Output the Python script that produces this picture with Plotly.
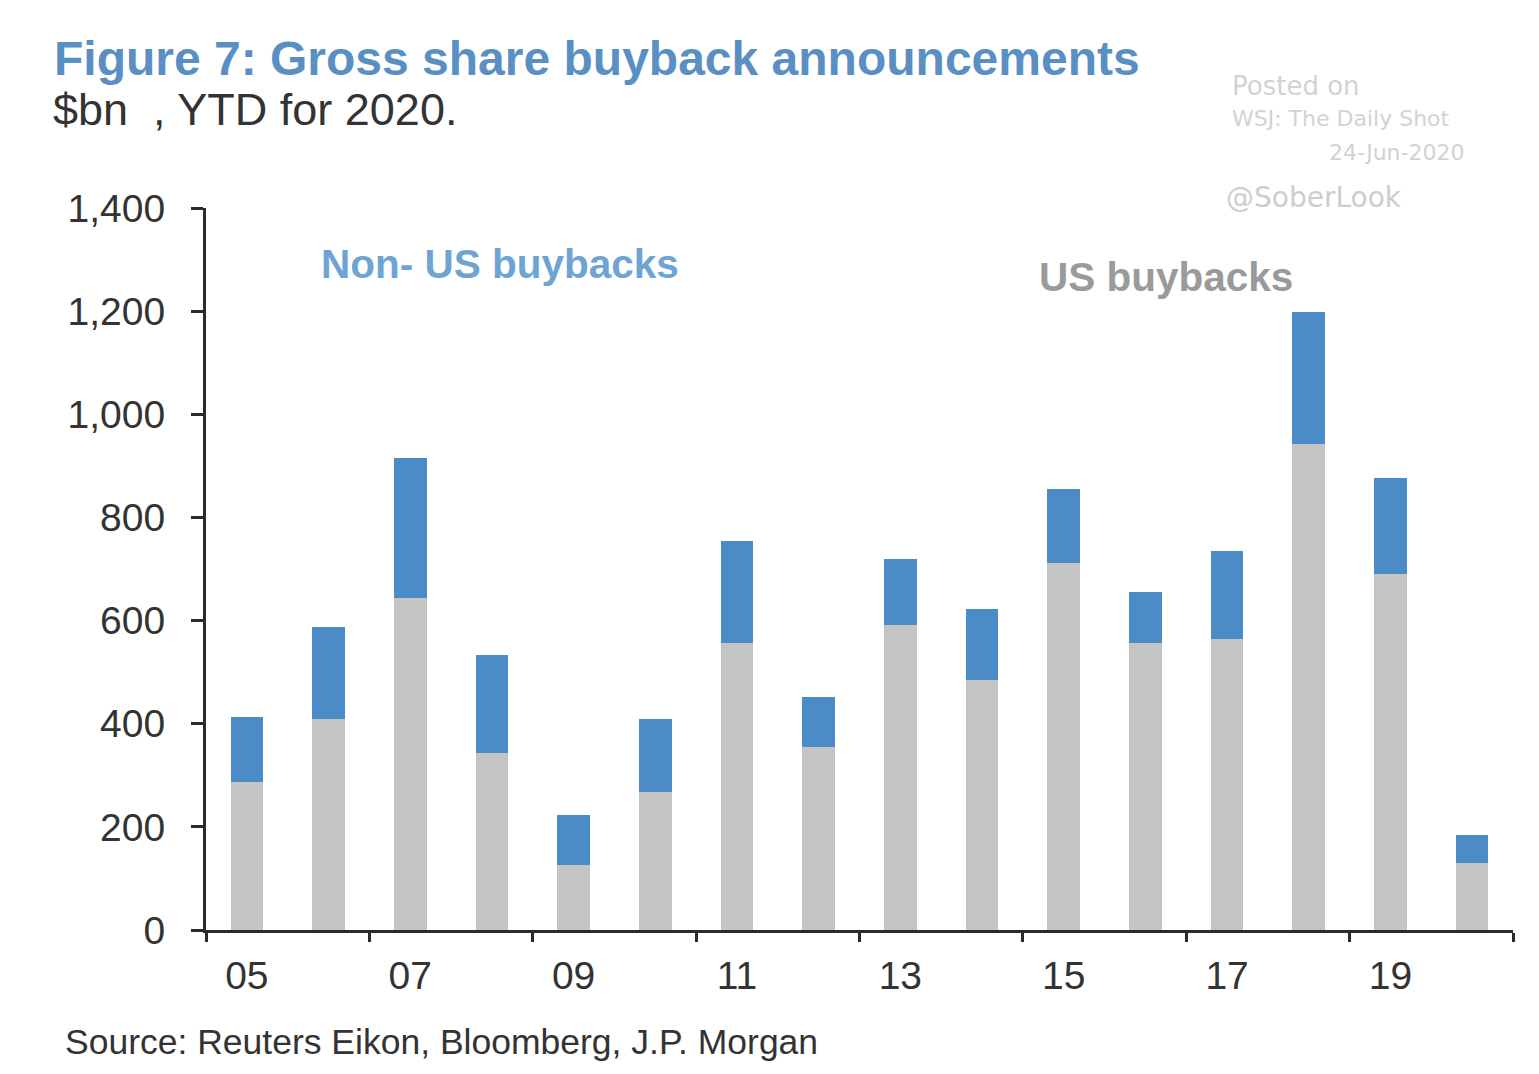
import plotly.graph_objects as go

# ---- data ----
years = [2005, 2006, 2007, 2008, 2009, 2010, 2011, 2012, 2013, 2014, 2015, 2016, 2017, 2018, 2019, 2020]
us_buybacks = [287, 410, 643, 343, 126, 267, 556, 354, 592, 484, 711, 556, 564, 943, 690, 130]
non_us_buybacks = [126, 177, 273, 191, 97, 142, 198, 97, 128, 139, 145, 100, 171, 256, 187, 54]
tick_years = [2005, 2007, 2009, 2011, 2013, 2015, 2017, 2019]
tick_labels = ["05", "07", "09", "11", "13", "15", "17", "19"]
y_ticks = [0, 200, 400, 600, 800, 1000, 1200, 1400]
boundary_ticks = [2004.5, 2006.5, 2008.5, 2010.5, 2012.5, 2014.5, 2016.5, 2018.5, 2020.5]

W, H = 1539, 1074
OFF = 8  # page body margin
L, R, T, B = 206, 1513, 208, 930
FW, FH = W - 2 * OFF, H - 2 * OFF
FONT = "Liberation Sans, Arial, sans-serif"
WM_FONT = "DejaVu Sans, sans-serif"

def px(x):
    return (x - L) / (R - L)

def py(y):
    return (B - y) / (B - T)

fig = go.Figure()
fig.add_trace(go.Bar(x=years, y=us_buybacks, name="US buybacks",
                     marker=dict(color="#c4c4c4", line=dict(width=0)), width=0.4))
fig.add_trace(go.Bar(x=years, y=non_us_buybacks, name="Non- US buybacks",
                     marker=dict(color="#4b8cc8", line=dict(width=0)), width=0.4))

fig.update_layout(
    width=FW, height=FH,
    barmode="stack",
    showlegend=False,
    paper_bgcolor="white", plot_bgcolor="white",
    margin=dict(l=L - OFF, r=FW - (R - OFF), t=T - OFF, b=FH - (B - OFF)),
    font=dict(family=FONT, color="#333333"),
    xaxis=dict(
        range=[2004.5, 2020.5],
        tickmode="array", tickvals=tick_years, ticktext=tick_labels,
        ticks="", showgrid=False, zeroline=False,
        showline=True, linecolor="#2b2b2b", linewidth=3,
        tickfont=dict(size=39, color="#333333"),
        ticklabelstandoff=9,
        minor=dict(tickmode="array", tickvals=boundary_ticks, ticks="outside",
                   ticklen=9, tickwidth=3, tickcolor="#2b2b2b", showgrid=False),
    ),
    yaxis=dict(
        range=[0, 1400],
        tickmode="array", tickvals=y_ticks,
        tickformat=",d",
        ticks="outside", ticklen=12, tickwidth=3, tickcolor="#2b2b2b",
        showgrid=False, zeroline=False,
        showline=True, linecolor="#2b2b2b", linewidth=3,
        tickfont=dict(size=39, color="#333333"),
        ticklabelstandoff=18,
    ),
)

annotations = [
    dict(text="<b>Figure 7: Gross share buyback announcements</b>", x=px(52), y=py(58),
         xanchor="left", yanchor="middle", font=dict(size=48, color="#5a8fc4")),
    dict(text="$bn\u00a0\u00a0, YTD for 2020.", x=px(51), y=py(109),
         xanchor="left", yanchor="middle", font=dict(size=45, color="#333333")),
    dict(text="Source: Reuters Eikon, Bloomberg, J.P. Morgan", x=px(63), y=py(1042),
         xanchor="left", yanchor="middle", font=dict(size=35.5, color="#333333")),
    dict(text="Posted on", x=px(1230), y=py(86),
         xanchor="left", yanchor="middle", font=dict(family=WM_FONT, size=26, color="#d2d2d2")),
    dict(text="WSJ: The Daily Shot", x=px(1230), y=py(119),
         xanchor="left", yanchor="middle", font=dict(family=WM_FONT, size=22, color="#d2d2d2")),
    dict(text="24-Jun-2020", x=px(1466), y=py(153),
         xanchor="right", yanchor="middle", font=dict(family=WM_FONT, size=22, color="#d2d2d2")),
    dict(text="@SoberLook", x=px(1224), y=py(197),
         xanchor="left", yanchor="middle", font=dict(family=WM_FONT, size=28, color="#cdcdcd")),
]
for a in annotations:
    a.update(xref="paper", yref="paper", showarrow=False)
    fig.add_annotation(**a)

fig.add_annotation(text="<b>Non- US buybacks</b>", x=2008.1, y=1291, xref="x", yref="y",
                   showarrow=False, xanchor="center", yanchor="middle",
                   font=dict(size=40.5, color="#6ea4d4"))
fig.add_annotation(text="<b>US buybacks</b>", x=2016.25, y=1266, xref="x", yref="y",
                   showarrow=False, xanchor="center", yanchor="middle",
                   font=dict(size=40.5, color="#9a9a9a"))

fig.write_html("out.html")
